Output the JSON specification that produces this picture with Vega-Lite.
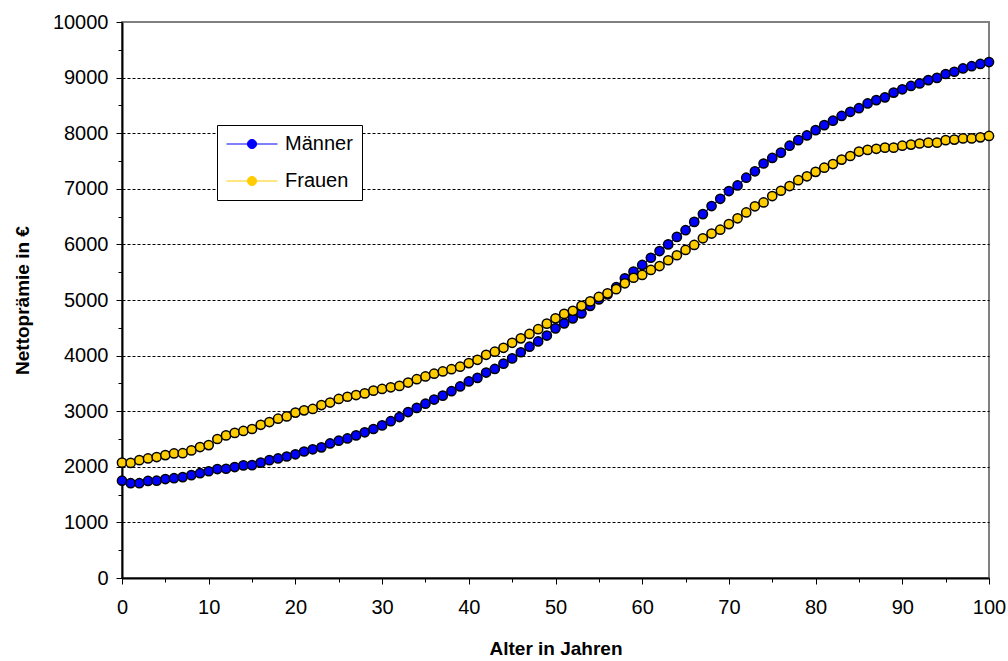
{
  "$schema": "https://vega.github.io/schema/vega-lite/v6.json",
  "autosize": {"type": "none"},
  "width": 867,
  "height": 556,
  "padding": {"left": 122, "top": 22, "right": 19, "bottom": 83},
  "background": "white",
  "config": {
    "font": "Liberation Sans",
    "view": {"stroke": "#808080", "strokeWidth": 2}
  },
  "datasets": {
    "pr": [
      {"alter":0,"g":"Männer","v":1750},{"alter":1,"g":"Männer","v":1705},{"alter":2,"g":"Männer","v":1705},{"alter":3,"g":"Männer","v":1745},{"alter":4,"g":"Männer","v":1750},{"alter":5,"g":"Männer","v":1780},{"alter":6,"g":"Männer","v":1795},{"alter":7,"g":"Männer","v":1815},{"alter":8,"g":"Männer","v":1850},{"alter":9,"g":"Männer","v":1885},
      {"alter":10,"g":"Männer","v":1920},{"alter":11,"g":"Männer","v":1960},{"alter":12,"g":"Männer","v":1965},{"alter":13,"g":"Männer","v":1995},{"alter":14,"g":"Männer","v":2025},{"alter":15,"g":"Männer","v":2030},{"alter":16,"g":"Männer","v":2075},{"alter":17,"g":"Männer","v":2120},{"alter":18,"g":"Männer","v":2150},{"alter":19,"g":"Männer","v":2185},
      {"alter":20,"g":"Männer","v":2225},{"alter":21,"g":"Männer","v":2275},{"alter":22,"g":"Männer","v":2315},{"alter":23,"g":"Männer","v":2350},{"alter":24,"g":"Männer","v":2420},{"alter":25,"g":"Männer","v":2470},{"alter":26,"g":"Männer","v":2510},{"alter":27,"g":"Männer","v":2565},{"alter":28,"g":"Männer","v":2620},{"alter":29,"g":"Männer","v":2680},
      {"alter":30,"g":"Männer","v":2745},{"alter":31,"g":"Männer","v":2820},{"alter":32,"g":"Männer","v":2895},{"alter":33,"g":"Männer","v":2985},{"alter":34,"g":"Männer","v":3060},{"alter":35,"g":"Männer","v":3135},{"alter":36,"g":"Männer","v":3210},{"alter":37,"g":"Männer","v":3280},{"alter":38,"g":"Männer","v":3360},{"alter":39,"g":"Männer","v":3445},
      {"alter":40,"g":"Männer","v":3535},{"alter":41,"g":"Männer","v":3600},{"alter":42,"g":"Männer","v":3695},{"alter":43,"g":"Männer","v":3760},{"alter":44,"g":"Männer","v":3855},{"alter":45,"g":"Männer","v":3950},{"alter":46,"g":"Männer","v":4060},{"alter":47,"g":"Männer","v":4160},{"alter":48,"g":"Männer","v":4255},{"alter":49,"g":"Männer","v":4360},
      {"alter":50,"g":"Männer","v":4490},{"alter":51,"g":"Männer","v":4580},{"alter":52,"g":"Männer","v":4670},{"alter":53,"g":"Männer","v":4760},{"alter":54,"g":"Männer","v":4895},{"alter":55,"g":"Männer","v":5010},{"alter":56,"g":"Männer","v":5100},{"alter":57,"g":"Männer","v":5230},{"alter":58,"g":"Männer","v":5390},{"alter":59,"g":"Männer","v":5510},
      {"alter":60,"g":"Männer","v":5630},{"alter":61,"g":"Männer","v":5760},{"alter":62,"g":"Männer","v":5880},{"alter":63,"g":"Männer","v":6000},{"alter":64,"g":"Männer","v":6135},{"alter":65,"g":"Männer","v":6255},{"alter":66,"g":"Männer","v":6405},{"alter":67,"g":"Männer","v":6545},{"alter":68,"g":"Männer","v":6690},{"alter":69,"g":"Männer","v":6820},
      {"alter":70,"g":"Männer","v":6960},{"alter":71,"g":"Männer","v":7060},{"alter":72,"g":"Männer","v":7200},{"alter":73,"g":"Männer","v":7315},{"alter":74,"g":"Männer","v":7455},{"alter":75,"g":"Männer","v":7555},{"alter":76,"g":"Männer","v":7650},{"alter":77,"g":"Männer","v":7775},{"alter":78,"g":"Männer","v":7875},{"alter":79,"g":"Männer","v":7960},
      {"alter":80,"g":"Männer","v":8055},{"alter":81,"g":"Männer","v":8145},{"alter":82,"g":"Männer","v":8225},{"alter":83,"g":"Männer","v":8310},{"alter":84,"g":"Männer","v":8385},{"alter":85,"g":"Männer","v":8450},{"alter":86,"g":"Männer","v":8535},{"alter":87,"g":"Männer","v":8595},{"alter":88,"g":"Männer","v":8645},{"alter":89,"g":"Männer","v":8730},
      {"alter":90,"g":"Männer","v":8790},{"alter":91,"g":"Männer","v":8850},{"alter":92,"g":"Männer","v":8895},{"alter":93,"g":"Männer","v":8955},{"alter":94,"g":"Männer","v":8995},{"alter":95,"g":"Männer","v":9065},{"alter":96,"g":"Männer","v":9105},{"alter":97,"g":"Männer","v":9165},{"alter":98,"g":"Männer","v":9205},{"alter":99,"g":"Männer","v":9245},
      {"alter":100,"g":"Männer","v":9280},
      {"alter":0,"g":"Frauen","v":2075},{"alter":1,"g":"Frauen","v":2070},{"alter":2,"g":"Frauen","v":2120},{"alter":3,"g":"Frauen","v":2150},{"alter":4,"g":"Frauen","v":2175},{"alter":5,"g":"Frauen","v":2210},{"alter":6,"g":"Frauen","v":2240},{"alter":7,"g":"Frauen","v":2245},{"alter":8,"g":"Frauen","v":2295},{"alter":9,"g":"Frauen","v":2355},
      {"alter":10,"g":"Frauen","v":2390},{"alter":11,"g":"Frauen","v":2500},{"alter":12,"g":"Frauen","v":2565},{"alter":13,"g":"Frauen","v":2610},{"alter":14,"g":"Frauen","v":2645},{"alter":15,"g":"Frauen","v":2680},{"alter":16,"g":"Frauen","v":2755},{"alter":17,"g":"Frauen","v":2805},{"alter":18,"g":"Frauen","v":2865},{"alter":19,"g":"Frauen","v":2905},
      {"alter":20,"g":"Frauen","v":2975},{"alter":21,"g":"Frauen","v":3015},{"alter":22,"g":"Frauen","v":3040},{"alter":23,"g":"Frauen","v":3110},{"alter":24,"g":"Frauen","v":3155},{"alter":25,"g":"Frauen","v":3220},{"alter":26,"g":"Frauen","v":3260},{"alter":27,"g":"Frauen","v":3290},{"alter":28,"g":"Frauen","v":3320},{"alter":29,"g":"Frauen","v":3370},
      {"alter":30,"g":"Frauen","v":3400},{"alter":31,"g":"Frauen","v":3430},{"alter":32,"g":"Frauen","v":3455},{"alter":33,"g":"Frauen","v":3515},{"alter":34,"g":"Frauen","v":3575},{"alter":35,"g":"Frauen","v":3625},{"alter":36,"g":"Frauen","v":3675},{"alter":37,"g":"Frauen","v":3715},{"alter":38,"g":"Frauen","v":3755},{"alter":39,"g":"Frauen","v":3800},
      {"alter":40,"g":"Frauen","v":3865},{"alter":41,"g":"Frauen","v":3925},{"alter":42,"g":"Frauen","v":4015},{"alter":43,"g":"Frauen","v":4070},{"alter":44,"g":"Frauen","v":4140},{"alter":45,"g":"Frauen","v":4230},{"alter":46,"g":"Frauen","v":4310},{"alter":47,"g":"Frauen","v":4390},{"alter":48,"g":"Frauen","v":4475},{"alter":49,"g":"Frauen","v":4575},
      {"alter":50,"g":"Frauen","v":4670},{"alter":51,"g":"Frauen","v":4750},{"alter":52,"g":"Frauen","v":4805},{"alter":53,"g":"Frauen","v":4895},{"alter":54,"g":"Frauen","v":4975},{"alter":55,"g":"Frauen","v":5055},{"alter":56,"g":"Frauen","v":5120},{"alter":57,"g":"Frauen","v":5195},{"alter":58,"g":"Frauen","v":5300},{"alter":59,"g":"Frauen","v":5400},
      {"alter":60,"g":"Frauen","v":5450},{"alter":61,"g":"Frauen","v":5540},{"alter":62,"g":"Frauen","v":5610},{"alter":63,"g":"Frauen","v":5715},{"alter":64,"g":"Frauen","v":5805},{"alter":65,"g":"Frauen","v":5900},{"alter":66,"g":"Frauen","v":5990},{"alter":67,"g":"Frauen","v":6110},{"alter":68,"g":"Frauen","v":6195},{"alter":69,"g":"Frauen","v":6265},
      {"alter":70,"g":"Frauen","v":6365},{"alter":71,"g":"Frauen","v":6470},{"alter":72,"g":"Frauen","v":6575},{"alter":73,"g":"Frauen","v":6685},{"alter":74,"g":"Frauen","v":6755},{"alter":75,"g":"Frauen","v":6870},{"alter":76,"g":"Frauen","v":6965},{"alter":77,"g":"Frauen","v":7050},{"alter":78,"g":"Frauen","v":7155},{"alter":79,"g":"Frauen","v":7225},
      {"alter":80,"g":"Frauen","v":7305},{"alter":81,"g":"Frauen","v":7380},{"alter":82,"g":"Frauen","v":7445},{"alter":83,"g":"Frauen","v":7525},{"alter":84,"g":"Frauen","v":7590},{"alter":85,"g":"Frauen","v":7670},{"alter":86,"g":"Frauen","v":7700},{"alter":87,"g":"Frauen","v":7720},{"alter":88,"g":"Frauen","v":7740},{"alter":89,"g":"Frauen","v":7740},
      {"alter":90,"g":"Frauen","v":7775},{"alter":91,"g":"Frauen","v":7795},{"alter":92,"g":"Frauen","v":7815},{"alter":93,"g":"Frauen","v":7830},{"alter":94,"g":"Frauen","v":7830},{"alter":95,"g":"Frauen","v":7875},{"alter":96,"g":"Frauen","v":7885},{"alter":97,"g":"Frauen","v":7905},{"alter":98,"g":"Frauen","v":7905},{"alter":99,"g":"Frauen","v":7925},
      {"alter":100,"g":"Frauen","v":7950}
    ]
  },
  "data": {"name": "pr"},
  "encoding": {
    "x": {
      "field": "alter", "type": "quantitative",
      "scale": {"domain": [0, 100], "nice": false, "zero": false},
      "axis": {
        "title": "Alter in Jahren",
        "titleFont": "Liberation Sans", "titleFontSize": 19, "titleFontWeight": "bold", "titleColor": "black", "titlePadding": 22,
        "values": [0,5,10,15,20,25,30,35,40,45,50,55,60,65,70,75,80,85,90,95,100],
        "labelExpr": "datum.value % 10 == 0 ? datum.label : ''",
        "labelFont": "Liberation Sans", "labelFontSize": 20, "labelColor": "black", "labelPadding": 13, "labelFlush": false, "labelOverlap": false,
        "tickSize": {"condition": {"test": "datum.value % 10 == 0", "value": 6}, "value": 4},
        "tickColor": "black", "tickWidth": 1,
        "domainColor": "black", "domainWidth": 2,
        "grid": false
      }
    },
    "y": {
      "field": "v", "type": "quantitative",
      "scale": {"domain": [0, 10000], "nice": false},
      "axis": {
        "title": "Nettoprämie in €",
        "titleFont": "Liberation Sans", "titleFontSize": 19, "titleFontWeight": "bold", "titleColor": "black", "titlePadding": 20,
        "values": [0,500,1000,1500,2000,2500,3000,3500,4000,4500,5000,5500,6000,6500,7000,7500,8000,8500,9000,9500,10000],
        "labelExpr": "datum.value % 1000 == 0 ? datum.label : ''",
        "format": "d",
        "labelFont": "Liberation Sans", "labelFontSize": 20, "labelColor": "black", "labelPadding": 8, "labelFlush": false, "labelOverlap": false,
        "tickSize": {"condition": {"test": "datum.value % 1000 == 0", "value": 6}, "value": 4},
        "tickColor": "black", "tickWidth": 1,
        "domainColor": "black", "domainWidth": 2,
        "grid": true,
        "gridColor": "black", "gridWidth": 1, "gridDash": [3, 2],
        "gridOpacity": {"condition": {"test": "datum.value % 1000 == 0 && datum.value > 0 && datum.value < 10000", "value": 1}, "value": 0}
      }
    },
    "color": {
      "field": "g", "type": "nominal",
      "scale": {"domain": ["Männer", "Frauen"], "range": ["#0000FF", "#FFCC00"]},
      "legend": {
        "title": null,
        "orient": "none", "legendX": 95, "legendY": 103,
        "direction": "vertical",
        "fillColor": "white", "strokeColor": "black",
        "padding": 9,
        "clipHeight": 20,
        "labelFont": "Liberation Sans", "labelFontSize": 20, "labelColor": "black", "labelOffset": 7,
        "symbolType": "M-1,0H1M0.18,0A0.18,0.18,0,1,1,-0.18,0A0.18,0.18,0,1,1,0.18,0Z",
        "symbolSize": 2600, "symbolStrokeWidth": 1,
        "rowPadding": 17,
        "encode": {"symbols": {"update": {"stroke": {"scale": "color", "field": "value"}, "fill": {"scale": "color", "field": "value"}}}}
      }
    }
  },
  "layer": [
    {"mark": {"type": "line", "strokeWidth": 1.2}},
    {"mark": {"type": "point", "filled": true, "shape": "circle", "size": 85, "stroke": "black", "strokeWidth": 1.5, "opacity": 1}}
  ]
}
